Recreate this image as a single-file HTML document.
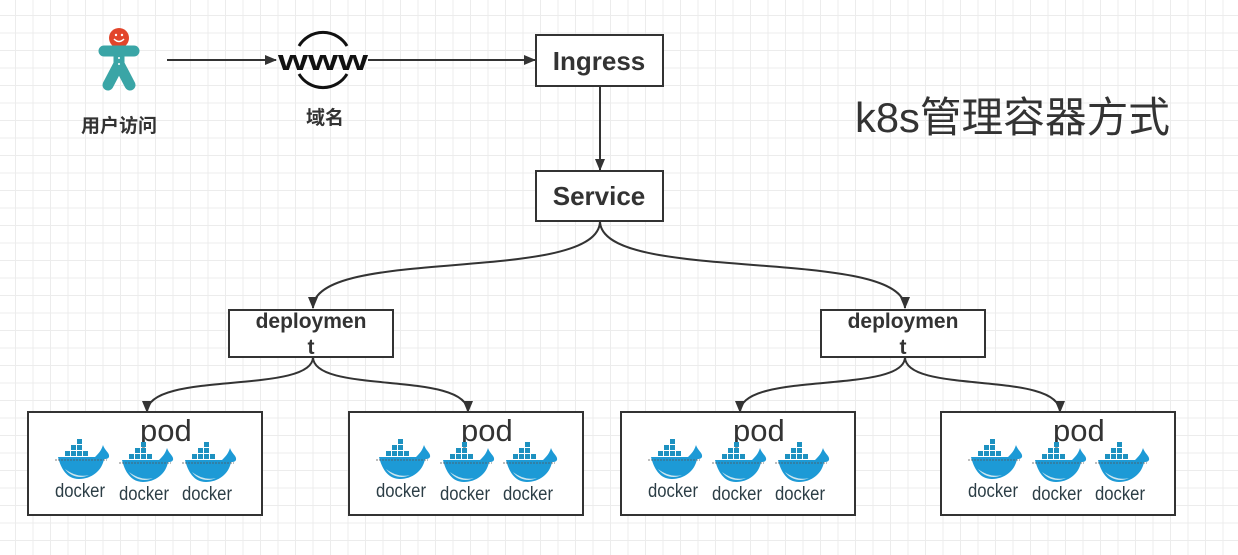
<!DOCTYPE html>
<html><head><meta charset="utf-8"><style>
html,body{margin:0;padding:0;background:#fff}
body{width:1238px;height:555px;overflow:hidden;
background-image:linear-gradient(#ececec 1px,transparent 1px),linear-gradient(90deg,#ececec 1px,transparent 1px);
background-size:17.5px 17.5px;background-position:15px 15px}
svg{position:absolute;left:0;top:0}
text{font-family:"Liberation Sans","Noto Sans CJK SC",sans-serif}
</style></head><body>
<svg width="1238" height="555" viewBox="0 0 1238 555">
<defs>
<marker id="a" markerWidth="12" markerHeight="12" refX="11" refY="6" orient="auto" markerUnits="userSpaceOnUse"><path d="M0,1 L12,6 L0,11 z" fill="#333"/></marker>
<g id="dk">
  <g fill="#1d91c0">
    <rect x="14" y="0" width="5" height="5"/>
    <rect x="8" y="6" width="5" height="5"/><rect x="14" y="6" width="5" height="5"/>
    <rect x="2" y="12" width="5" height="5"/><rect x="8" y="12" width="5" height="5"/><rect x="14" y="12" width="5" height="5"/><rect x="20" y="12" width="5" height="5"/>
  </g>
  <path d="M-5,18 L32,18 C36,14 38,12 40,6 C42,12 47,14 46,18 C45,20 43,20 41,20 C39,32 28,40 16,40 C4,40 -2,30 -5,18z" fill="#1d9ad6"/>
  <path d="M2,30 C8,38 18,40 26,36 C18,38 10,36 2,30z" fill="#cfe6ee"/>
  <line x1="-8" y1="21" x2="44" y2="21" stroke="#555" stroke-width="0.8" stroke-dasharray="2 1"/>
  <text x="-8" y="58" font-size="19" fill="#2c3e46" textLength="50" lengthAdjust="spacingAndGlyphs">docker</text>
</g>
<g id="pod">
  <rect x="0" y="0" width="234" height="103" fill="#fff" stroke="#333" stroke-width="2"/>
  <text x="112" y="29" font-size="31" fill="#333">pod</text>
  <use href="#dk" x="35" y="27"/>
  <use href="#dk" x="99" y="30"/>
  <use href="#dk" x="162" y="30"/>
</g>
</defs>

<!-- person -->
<g>
  <circle cx="119" cy="38" r="10" fill="#e2452b"/>
  <path d="M114,39 Q119,44 124,39" stroke="#fff" stroke-width="1.5" fill="none"/>
  <circle cx="116" cy="35" r="1.2" fill="#fff"/><circle cx="122" cy="35" r="1.2" fill="#fff"/>
  <path d="M104,51 L134,51 M119,51 L119,66 M119,64 L108,85 M119,64 L130,85" stroke="#3aa5a6" stroke-width="11" stroke-linecap="round" fill="none"/>
  <circle cx="119" cy="58" r="1" fill="#fff"/><circle cx="119" cy="64" r="1" fill="#fff"/>
</g>
<text x="119" y="132" font-size="19" font-weight="bold" fill="#333" text-anchor="middle">用户访问</text>

<!-- www -->
<path d="M299,46 A28,28 0 0 1 347,46" stroke="#111" stroke-width="3" fill="none"/>
<path d="M299,74 A28,28 0 0 0 347,74" stroke="#111" stroke-width="3" fill="none"/>
<text x="278" y="70" font-size="29" font-weight="bold" fill="#111" textLength="90" lengthAdjust="spacingAndGlyphs">www</text>
<text x="325" y="124" font-size="19" font-weight="bold" fill="#333" text-anchor="middle">域名</text>

<g stroke="#333" stroke-width="2" fill="none">
<line x1="167" y1="60" x2="276" y2="60" marker-end="url(#a)"/>
<line x1="368" y1="60" x2="535" y2="60" marker-end="url(#a)"/>
<line x1="600" y1="87" x2="600" y2="170" marker-end="url(#a)"/>
<path d="M600,221 C600,285 313,245 313,308" marker-end="url(#a)"/>
<path d="M600,221 C600,285 905,245 905,308" marker-end="url(#a)"/>
<path d="M313,357 C313,395 147,370 147,412" marker-end="url(#a)"/>
<path d="M313,357 C313,395 468,370 468,412" marker-end="url(#a)"/>
<path d="M905,357 C905,395 740,370 740,412" marker-end="url(#a)"/>
<path d="M905,357 C905,395 1060,370 1060,412" marker-end="url(#a)"/>
</g>

<rect x="536" y="35" width="127" height="51" fill="#fff" stroke="#333" stroke-width="2"/>
<text x="599" y="70" font-size="26" font-weight="bold" fill="#333" text-anchor="middle">Ingress</text>
<rect x="536" y="171" width="127" height="50" fill="#fff" stroke="#333" stroke-width="2"/>
<text x="599" y="205" font-size="26" font-weight="bold" fill="#333" text-anchor="middle">Service</text>

<rect x="229" y="310" width="164" height="47" fill="#fff" stroke="#333" stroke-width="2"/>
<text x="311" y="328" font-size="21" font-weight="bold" fill="#333" text-anchor="middle">deploymen</text>
<text x="311" y="354" font-size="21" font-weight="bold" fill="#333" text-anchor="middle">t</text>
<rect x="821" y="310" width="164" height="47" fill="#fff" stroke="#333" stroke-width="2"/>
<text x="903" y="328" font-size="21" font-weight="bold" fill="#333" text-anchor="middle">deploymen</text>
<text x="903" y="354" font-size="21" font-weight="bold" fill="#333" text-anchor="middle">t</text>

<use href="#pod" x="28" y="412"/>
<use href="#pod" x="349" y="412"/>
<use href="#pod" x="621" y="412"/>
<use href="#pod" x="941" y="412"/>

<text x="855" y="132" font-size="42" fill="#333" textLength="315" lengthAdjust="spacingAndGlyphs">k8s管理容器方式</text>
</svg>
</body></html>
